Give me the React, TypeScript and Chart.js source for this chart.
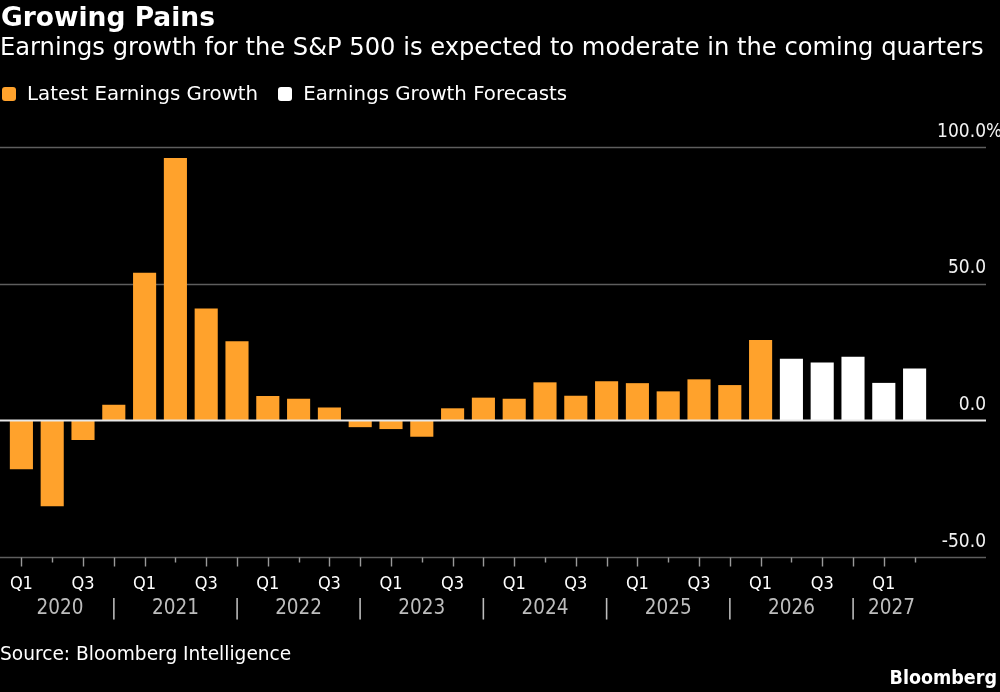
import React, { useEffect, useRef } from "react";
import { Chart, registerables } from "chart.js";

Chart.register(...registerables);

// Quarterly periods, 2020 Q1 through 2027 Q2
const categories = [
  "2020 Q1", "2020 Q2", "2020 Q3", "2020 Q4",
  "2021 Q1", "2021 Q2", "2021 Q3", "2021 Q4",
  "2022 Q1", "2022 Q2", "2022 Q3", "2022 Q4",
  "2023 Q1", "2023 Q2", "2023 Q3", "2023 Q4",
  "2024 Q1", "2024 Q2", "2024 Q3", "2024 Q4",
  "2025 Q1", "2025 Q2", "2025 Q3", "2025 Q4",
  "2026 Q1", "2026 Q2", "2026 Q3", "2026 Q4",
  "2027 Q1", "2027 Q2",
];

// Year-over-year earnings growth, %
const latestGrowth: (number | null)[] = [
  -17.9, -31.4, -7.2, 5.7,
  54.0, 96.0, 40.9, 28.9,
  8.9, 7.9, 4.7, -2.5,
  -3.2, -6.0, 4.4, 8.3,
  7.9, 13.9, 9.0, 14.3,
  13.6, 10.6, 15.0, 12.9,
  29.4, null, null, null,
  null, null,
];

const forecastGrowth: (number | null)[] = [
  null, null, null, null,
  null, null, null, null,
  null, null, null, null,
  null, null, null, null,
  null, null, null, null,
  null, null, null, null,
  null, 22.5, 21.2, 23.3,
  13.7, 19.0,
];

const yTicks = [100, 50, 0, -50];
const yTickLabels = ["100.0%", "50.0", "0.0", "-50.0"];

const ORANGE = "#FFA22C";
const WHITE = "#FFFFFF";
const AXIS_FONT = "'DejaVu Sans Condensed', 'DejaVu Sans', sans-serif";
const HEAD_FONT = "'DejaVu Sans', sans-serif";

const GRID_LEFT = 0;
const GRID_RIGHT = 986;

const bloombergAxes = {
  id: "bloombergAxes",
  beforeDatasetsDraw(chart: any) {
    const { ctx, scales } = chart;
    const y = scales.y;
    ctx.save();
    ctx.strokeStyle = "#5e5e5e";
    ctx.lineWidth = 1.4;
    for (const v of yTicks) {
      if (v === 0) continue;
      const py = Math.round(y.getPixelForValue(v)) + 0.5;
      ctx.beginPath();
      ctx.moveTo(GRID_LEFT, py);
      ctx.lineTo(GRID_RIGHT, py);
      ctx.stroke();
    }
    ctx.restore();
  },
  afterDatasetsDraw(chart: any) {
    const { ctx, scales, chartArea } = chart;
    const x = scales.x;
    const y = scales.y;
    ctx.save();

    // zero baseline
    const y0 = Math.round(y.getPixelForValue(0)) + 0.5;
    ctx.strokeStyle = "#e8e8e8";
    ctx.lineWidth = 1.8;
    ctx.beginPath();
    ctx.moveTo(GRID_LEFT, y0);
    ctx.lineTo(GRID_RIGHT, y0);
    ctx.stroke();

    // value labels, right-aligned above each gridline
    ctx.fillStyle = "#f2f2f2";
    ctx.font = `19px ${AXIS_FONT}`;
    ctx.textBaseline = "alphabetic";
    yTicks.forEach((v, i) => {
      const py = y.getPixelForValue(v);
      const label = yTickLabels[i];
      ctx.textAlign = "left";
      const num = label.replace("%", "");
      const w = ctx.measureText(num).width;
      ctx.fillText(label, GRID_RIGHT - w, py - 10.5);
    });

    // quarter ticks and labels
    const axisY = Math.round(y.getPixelForValue(-50)) + 0.5;
    ctx.strokeStyle = "#9a9a9a";
    ctx.lineWidth = 1.4;
    categories.forEach((c, i) => {
      const px = Math.round(x.getPixelForValue(i)) + 0.5;
      const q = c.split(" ")[1];
      const len = q === "Q2" ? 5 : 9;
      ctx.beginPath();
      ctx.moveTo(px, axisY);
      ctx.lineTo(px, axisY + len);
      ctx.stroke();
    });

    ctx.fillStyle = "#ffffff";
    ctx.font = `18px ${AXIS_FONT}`;
    ctx.textAlign = "center";
    categories.forEach((c, i) => {
      const q = c.split(" ")[1];
      if (q !== "Q1" && q !== "Q3") return;
      ctx.fillText(q, x.getPixelForValue(i), axisY + 31.5);
    });

    // year labels between Q4 separators
    const years: string[] = [];
    categories.forEach((c) => {
      const yr = c.split(" ")[0];
      if (!years.includes(yr)) years.push(yr);
    });
    ctx.fillStyle = "#bdbdbd";
    ctx.font = `20.5px ${AXIS_FONT}`;
    years.forEach((yr) => {
      const idx = categories
        .map((c, i) => (c.startsWith(yr) ? i : -1))
        .filter((i) => i >= 0);
      const first = idx[0];
      const last = idx[idx.length - 1];
      const left = first === 0 ? chartArea.left : x.getPixelForValue(first - 1);
      const isFull = categories[last].endsWith("Q4");
      const right = isFull ? x.getPixelForValue(last) : chartArea.right;
      ctx.textAlign = "center";
      ctx.fillText(yr, (left + right) / 2, axisY + 56);
      if (isFull && last < categories.length - 1) {
        ctx.fillText("|", x.getPixelForValue(last), axisY + 56);
      }
    });

    ctx.restore();
  },
};

export default function App() {
  const canvasRef = useRef<HTMLCanvasElement | null>(null);

  useEffect(() => {
    document.body.style.margin = "0";
    document.body.style.background = "#000";
    const canvas = canvasRef.current;
    if (!canvas) return;
    const chart = new Chart(canvas, {
      type: "bar",
      data: {
        labels: categories,
        datasets: [
          {
            label: "Latest Earnings Growth",
            data: latestGrowth,
            backgroundColor: ORANGE,
            borderWidth: 0,
            grouped: false,
            categoryPercentage: 1,
            barPercentage: 0.75,
          },
          {
            label: "Earnings Growth Forecasts",
            data: forecastGrowth,
            backgroundColor: WHITE,
            borderWidth: 0,
            grouped: false,
            categoryPercentage: 1,
            barPercentage: 0.75,
          },
        ],
      },
      options: {
        animation: false,
        responsive: false,
        maintainAspectRatio: false,
        layout: { padding: { left: 6, right: 70, top: 147, bottom: 135 } },
        plugins: {
          legend: { display: false },
          tooltip: { enabled: false },
          title: { display: false },
        },
        scales: {
          x: { display: false, offset: true },
          y: { display: false, min: -50, max: 100 },
        },
      },
      plugins: [bloombergAxes],
    });
    return () => chart.destroy();
  }, []);

  const text: React.CSSProperties = {
    position: "absolute",
    margin: 0,
    lineHeight: 1,
    whiteSpace: "nowrap",
    fontFamily: HEAD_FONT,
    color: "#ffffff",
  };

  const swatch = (color: string): React.CSSProperties => ({
    display: "inline-block",
    width: 14,
    height: 14,
    borderRadius: 3,
    background: color,
    marginRight: 11,
    verticalAlign: "-1px",
  });

  return (
    <div
      style={{
        position: "absolute",
        left: 0,
        top: 0,
        width: 1000,
        height: 692,
        background: "#000",
        overflow: "hidden",
      }}
    >
      <canvas
        ref={canvasRef}
        width={1000}
        height={692}
        style={{ position: "absolute", left: 0, top: 0, width: 1000, height: 692 }}
      />
      <div style={{ ...text, left: 1, top: 4, fontSize: 26.5, fontWeight: 700 }}>
        Growing Pains
      </div>
      <div style={{ ...text, left: 0, top: 35, fontSize: 24.2 }}>
        Earnings growth for the S&amp;P 500 is expected to moderate in the coming quarters
      </div>
      <div style={{ ...text, left: 2, top: 84, fontSize: 19.8 }}>
        <span style={swatch(ORANGE)} />
        <span>Latest Earnings Growth</span>
        <span style={{ ...swatch(WHITE), marginLeft: 20 }} />
        <span>Earnings Growth Forecasts</span>
      </div>
      <div style={{ ...text, left: 0, top: 645, fontSize: 18.6 }}>
        Source: Bloomberg Intelligence
      </div>
      <div
        style={{
          ...text,
          right: 3,
          top: 668,
          fontSize: 19.5,
          fontWeight: 700,
          fontFamily: AXIS_FONT,
        }}
      >
        Bloomberg
      </div>
    </div>
  );
}
